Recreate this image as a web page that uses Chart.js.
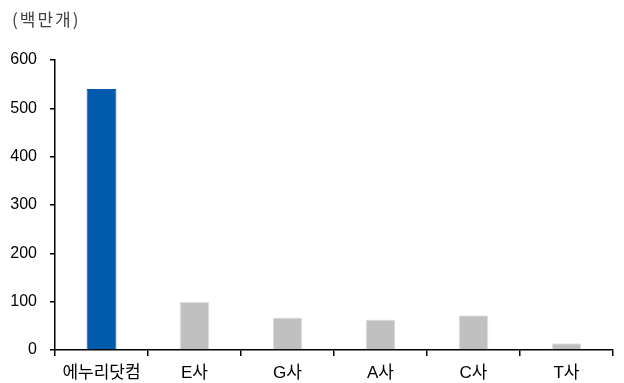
<!DOCTYPE html>
<html>
<head>
<meta charset="utf-8">
<script src="https://cdn.jsdelivr.net/npm/chart.js@4"></script>
<style>
  html, body { margin: 0; padding: 0; background: #fff; }
  #wrap { width: 624px; height: 383px; }
</style>
</head>
<body>
<div id="wrap"><canvas id="marketChart" width="624" height="383"></canvas></div>
<script>
const categories = ["에누리닷컴", "E사", "G사", "A사", "C사", "T사"];
const values = [540, 100, 67, 63, 72, 14];
const barColors = ["#005BAC", "#C0C0C0", "#C0C0C0", "#C0C0C0", "#C0C0C0", "#C0C0C0"];
const unitLabel = "(백만개)";

const baseFont = "'Liberation Sans', Arial, 'Noto Sans CJK KR', sans-serif";

// unit caption above the y axis
const unitCaption = {
  id: "unitCaption",
  afterDraw(chart) {
    const ctx = chart.ctx;
    ctx.save();
    ctx.font = "17px 'Noto Sans CJK KR', sans-serif";
    ctx.letterSpacing = "2px";
    ctx.fillStyle = "#404040";
    ctx.textBaseline = "middle";
    ctx.textAlign = "left";
    ctx.fillText(unitLabel, 12, 20);
    ctx.restore();
  }
};

new Chart(document.getElementById("marketChart").getContext("2d"), {
  type: "bar",
  data: {
    labels: categories,
    datasets: [{
      data: values,
      backgroundColor: barColors,
      borderColor: barColors.map(c => c === "#C0C0C0" ? "#E4E4E4" : c),
      borderWidth: 1,
      barPercentage: 0.32,
      categoryPercentage: 1
    }]
  },
  options: {
    responsive: false,
    animation: false,
    layout: { padding: { top: 60, right: 11, left: 0, bottom: 0 } },
    plugins: {
      legend: { display: false },
      tooltip: { enabled: false }
    },
    scales: {
      x: {
        grid: { drawOnChartArea: false, drawTicks: true, tickLength: 6, color: "#000", lineWidth: 1.5 },
        border: { display: true, color: "#000", width: 1.5 },
        ticks: { color: "#000", padding: 7, font: { family: baseFont, size: 17 } },
        afterFit(scale) { scale.height = 33; }
      },
      y: {
        min: 0,
        max: 600,
        ticks: { stepSize: 100, color: "#000", padding: 13, font: { family: baseFont, size: 16 } },
        grid: { drawOnChartArea: false, drawTicks: true, tickLength: 5, color: "#000", lineWidth: 1.5 },
        border: { display: true, color: "#000", width: 1.5 },
        afterFit(scale) { scale.width = 55; }
      }
    }
  },
  plugins: [unitCaption]
});
</script>
</body>
</html>
